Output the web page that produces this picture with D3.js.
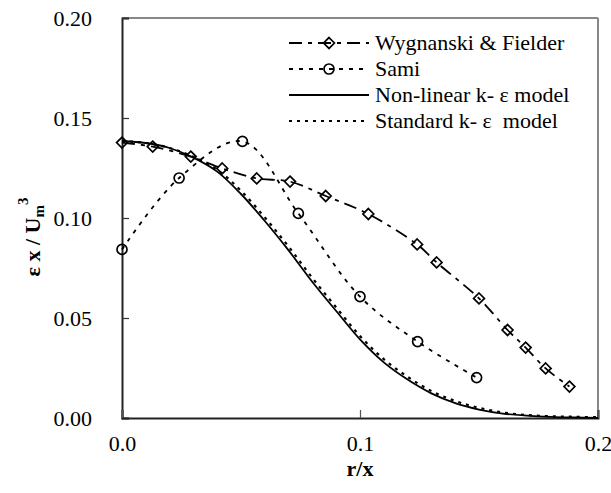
<!DOCTYPE html>
<html>
<head>
<meta charset="utf-8">
<script src="https://cdn.jsdelivr.net/npm/d3@7"></script>
<style>
  html, body { margin: 0; padding: 0; background: #fff; }
  svg { display: block; }
  .ytitle { opacity: 0.999; }
</style>
</head>
<body>
<svg id="chart" width="611" height="493"></svg>
<script>
// Measured dissipation profiles across the jet
const wygR = [0.0, 0.0129, 0.0289, 0.0421, 0.0566, 0.0706, 0.0856, 0.1035, 0.1240, 0.1322, 0.1500, 0.1620, 0.1696, 0.1780, 0.1880];
const wygV = [0.1377, 0.1357, 0.1307, 0.1248, 0.1198, 0.1182, 0.1110, 0.1020, 0.0868, 0.0778, 0.0598, 0.0440, 0.0352, 0.0248, 0.0157];

const samiR = [0.0, 0.0240, 0.0506, 0.0741, 0.1000, 0.1242, 0.1490];
const samiV = [0.0843, 0.1200, 0.1383, 0.1023, 0.0607, 0.0382, 0.0202];

// Model predictions
const modelR = [0.00, 0.01, 0.02, 0.03, 0.04, 0.05, 0.06, 0.07, 0.08, 0.09, 0.10,
                0.11, 0.12, 0.13, 0.14, 0.15, 0.16, 0.17, 0.18, 0.19, 0.20];
const nonlinearV = [0.1385, 0.1375, 0.1350, 0.1302, 0.1232, 0.1120, 0.0985, 0.0838, 0.0680, 0.0535, 0.0393,
                    0.0278, 0.0192, 0.0123, 0.0074, 0.0042, 0.0022, 0.0012, 0.0006, 0.0003, 0.0001];
const standardV  = [0.1385, 0.1375, 0.1350, 0.1306, 0.1242, 0.1136, 0.1003, 0.0857, 0.0700, 0.0553, 0.0410,
                    0.0294, 0.0206, 0.0135, 0.0085, 0.0051, 0.0028, 0.0015, 0.0009, 0.0006, 0.0004];

const xTicks = [0.0, 0.1, 0.2];
const xTickLabels = ["0.0", "0.1", "0.2"];
const yTicks = [0.00, 0.05, 0.10, 0.15, 0.20];
const yTickLabels = ["0.00", "0.05", "0.10", "0.15", "0.20"];

const legendLabels = ["Wygnanski & Fielder", "Sami", "Non-linear k- \u03b5 model", "Standard k- \u03b5  model"];

// Pick the first installed Times-like face
function pickSerif() {
  const candidates = ["Liberation Serif", "Tinos", "Times New Roman", "DejaVu Serif", "Noto Serif", "FreeSerif"];
  const ctx = document.createElement("canvas").getContext("2d");
  const sample = "Wygnanski & Fielder 0.123";
  const widthOf = f => { ctx.font = "40px " + f; return ctx.measureText(sample).width; };
  const mono = widthOf("monospace"), sans = widthOf("sans-serif");
  for (const c of candidates) {
    const a = widthOf(`"${c}", monospace`), b = widthOf(`"${c}", sans-serif`);
    if (a !== mono || b !== sans) return `"${c}", serif`;
  }
  return "serif";
}
const SERIF = pickSerif();
const FONT = 22;

const svg = d3.select("#chart");
const plot = { left: 122, right: 598, top: 18, bottom: 418 };

const x = d3.scaleLinear().domain([0, 0.2]).range([plot.left, plot.right]);
const y = d3.scaleLinear().domain([0, 0.2]).range([plot.bottom, plot.top]);

// Frame: left and bottom axes dark, top and right gray
svg.append("line").attr("x1", plot.left).attr("x2", plot.right).attr("y1", plot.top).attr("y2", plot.top)
  .attr("stroke", "#888").attr("stroke-width", 2);
svg.append("line").attr("x1", plot.right).attr("x2", plot.right).attr("y1", plot.top).attr("y2", plot.bottom)
  .attr("stroke", "#888").attr("stroke-width", 2);

// Axes with inward ticks
const yAxis = d3.axisLeft(y).tickValues(yTicks).tickSize(-7).tickPadding(30)
  .tickFormat((d, i) => yTickLabels[i]);
const gy = svg.append("g").attr("transform", `translate(${plot.left},0)`).call(yAxis)
  .attr("font-family", SERIF).attr("font-size", FONT);
gy.select(".domain").attr("stroke", "#222").attr("stroke-width", 2);
gy.selectAll(".tick line").attr("stroke", "#333").attr("stroke-width", 1.2);
gy.selectAll(".tick text").attr("fill", "#000").attr("x", -30).attr("dy", "0.34em");

const xAxis = d3.axisBottom(x).tickValues(xTicks).tickSize(-8).tickPadding(28)
  .tickFormat((d, i) => xTickLabels[i]);
const gx = svg.append("g").attr("transform", `translate(0,${plot.bottom})`).call(xAxis)
  .attr("font-family", SERIF).attr("font-size", FONT);
gx.select(".domain").attr("stroke", "#222").attr("stroke-width", 2);
gx.selectAll(".tick line").attr("stroke", "#555").attr("stroke-width", 1.2);
gx.selectAll(".tick text").attr("fill", "#000").attr("y", 0).attr("dy", 0).attr("transform", "translate(0,33)");

// Axis titles
svg.append("text").attr("x", 360).attr("y", 476).attr("text-anchor", "middle")
  .attr("font-family", SERIF).attr("font-size", FONT).attr("font-weight", "bold").text("r/x");

const yTitle = svg.append("g").attr("class", "ytitle")
  .append("text")
  .attr("transform", "translate(40,237) rotate(-90)")
  .attr("text-anchor", "middle")
  .attr("font-family", SERIF).attr("font-size", FONT).attr("font-weight", "bold").attr("fill", "#000");
yTitle.append("tspan").text("\u03b5 x / U");
yTitle.append("tspan").attr("font-size", 15).attr("dy", 4).text("m");
yTitle.append("tspan").attr("font-size", 15).attr("dy", -16).text("3");

// Series
const lineGen = curve => d3.line().x(d => x(d[0])).y(d => y(d[1])).curve(curve);
const zip = (a, b) => a.map((v, i) => [v, b[i]]);

const series = [
  { name: legendLabels[0], data: zip(wygR, wygV), dash: "13,6,4,6", width: 1.8, marker: "diamond" },
  { name: legendLabels[1], data: zip(samiR, samiV), dash: "4,6", width: 1.8, marker: "circle" },
  { name: legendLabels[2], data: zip(modelR, nonlinearV), dash: null, width: 1.8, marker: null },
  { name: legendLabels[3], data: zip(modelR, standardV), dash: "3,5", width: 2.2, marker: null }
];

// Model curves first, then data curves on top
[series[3], series[2], series[1], series[0]].forEach(s => {
  svg.append("path")
    .datum(s.data)
    .attr("d", lineGen(d3.curveCatmullRom.alpha(0.5)))
    .attr("fill", "none")
    .attr("stroke", "#000")
    .attr("stroke-width", s.width)
    .attr("stroke-dasharray", s.dash);
});

const diamond = d3.symbol().type(d3.symbolDiamond2).size(75);
function drawMarker(g, type, cx, cy) {
  if (type === "diamond") {
    g.append("path").attr("d", diamond()).attr("transform", `translate(${cx},${cy})`)
      .attr("fill", "none").attr("stroke", "#000").attr("stroke-width", 1.7);
  } else if (type === "circle") {
    g.append("circle").attr("cx", cx).attr("cy", cy).attr("r", 5)
      .attr("fill", "none").attr("stroke", "#000").attr("stroke-width", 1.7);
  }
}

const markers = svg.append("g");
series.forEach(s => {
  if (!s.marker) return;
  s.data.forEach(d => drawMarker(markers, s.marker, x(d[0]), y(d[1])));
});

// Legend
const legend = svg.append("g");
const rowY = [43, 69, 95, 121];
series.forEach((s, i) => {
  const yy = rowY[i];
  legend.append("line").attr("x1", 289).attr("x2", 369).attr("y1", yy).attr("y2", yy)
    .attr("stroke", "#000").attr("stroke-width", s.width).attr("stroke-dasharray", s.dash);
  if (s.marker) drawMarker(legend, s.marker, 329, yy);
  legend.append("text").attr("x", 375).attr("y", yy + 7)
    .attr("font-family", SERIF).attr("font-size", FONT).attr("fill", "#000")
    .attr("xml:space", "preserve").style("white-space", "pre")
    .text(s.name);
});
</script>
</body>
</html>
